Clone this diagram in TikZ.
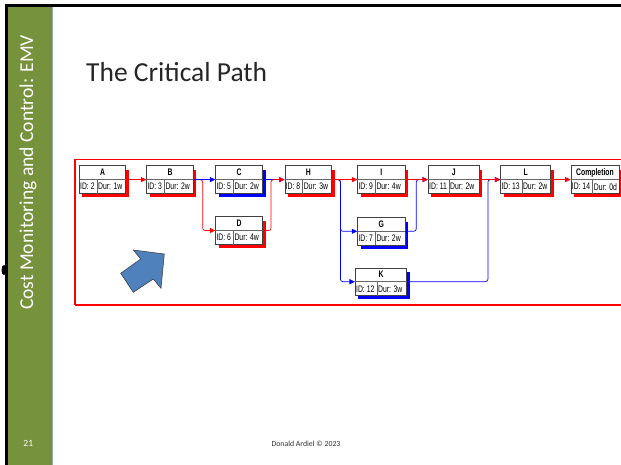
\documentclass[tikz,border=0pt]{standalone}
\usepackage{fontspec}
\setmainfont{Carlito}
\newfontfamily\boxfont[FakeStretch=0.72]{Liberation Sans}
\usetikzlibrary{calc,shadows,arrows.meta}
\definecolor{sidegreen}{HTML}{76923C}
\definecolor{sideline}{HTML}{8DA7C0}
\definecolor{crit}{HTML}{FF0000}
\definecolor{noncrit}{HTML}{0000FF}
\definecolor{callout}{HTML}{4F81BD}

% task box: [ID cell width]{name}{x,y}{width}{title}{ID}{duration}{shadow colour}
\newcommand{\taskbox}[8][18]{%
	\node[task, minimum width=#4pt, drop shadow={shadow xshift=3pt,shadow yshift=-4pt,fill=#8,opacity=1}] (#2) at (#3) {};
	\draw[cell] (#2.west) -- (#2.east) ([xshift=#1pt]#2.west) -- ([xshift=#1pt]#2.south west);
	\node[head] at ($(#2.north)!.5!(#2.center)$) {#5};
	\node[body] at ($(#2.west)!.5!(#2.south west)$) {ID: #6};
	\node[body] at ($([xshift=#1pt]#2.west)!.5!([xshift=#1pt]#2.south west)$) {Dur: #7};
}

\begin{document}
\begin{tikzpicture}[x=1pt, y=-1pt]
	\tikzstyle{task} = [rectangle,draw=black!75,fill=white,line width=0.7pt,minimum height=27.5pt,inner sep=0pt]
	\tikzstyle{cell} = [draw=black!60,line width=0.6pt]
	\tikzstyle{head} = [font=\boxfont\bfseries\fontsize{9.5}{10}\selectfont,inner sep=0pt]
	\tikzstyle{body} = [font=\boxfont\fontsize{9.5}{10}\selectfont,anchor=west,inner sep=1pt]
	\tikzstyle{link} = [line width=0.7pt,rounded corners=2.5pt,-{Triangle[length=5.5pt,width=5pt]}]
	\tikzstyle{frame} = [draw=crit,line width=1.1pt]
	\useasboundingbox (0,0) rectangle (621,465);
	\clip (0,0) rectangle (621,465);
	\fill[white] (0,0) rectangle (621,465);
	
	% slide frame and side bar
	\fill[black] (5,4) rectangle (621,7.3);
	\fill[black] (5,4) rectangle (8,465);
	\fill[black] (4,270) ellipse (2.5 and 5);
	\fill[sidegreen] (8,7.3) rectangle (52,465);
	\draw[sideline,line width=1pt] (52.5,7.3) -- (52.5,465);
	\node[white,rotate=90,anchor=base,font=\fontsize{19.6}{22}\selectfont] (side) at (33,172.5) {Cost Monitoring and Control: EMV};
	\node[white,font=\fontsize{9.5}{11}\selectfont] (page) at (28.3,443.7) {21};
	\node[black!85,anchor=base west,inner sep=0pt,font=\fontsize{27.5}{30}\selectfont] (title) at (86,81.5) {The Critical Path};
	\node[black!80,font=\fontsize{7.8}{9}\selectfont] (foot) at (306,444) {Donald Ardiel \textcopyright{} 2023};
	
	\taskbox{t-A}{102.5,179.6}{46.4}{A}{2}{1w}{crit}
	\taskbox{t-B}{170,179.6}{46.6}{B}{3}{2w}{crit}
	\taskbox{t-C}{239.2,179.6}{47}{C}{5}{2w}{noncrit}
	\taskbox{t-D}{239.2,230.5}{47}{D}{6}{4w}{crit}
	\taskbox{t-H}{308.3,179.6}{46.7}{H}{8}{3w}{crit}
	\taskbox{t-I}{381.3,179.6}{47.3}{I}{9}{4w}{crit}
	\taskbox{t-G}{381.3,231.3}{47.3}{G}{7}{2w}{noncrit}
	\taskbox[22]{t-K}{381,281.7}{51.4}{K}{12}{3w}{noncrit}
	\taskbox[21]{t-J}{453.7,179.6}{50.7}{J}{11}{2w}{crit}
	\taskbox[21.5]{t-L}{525.7,179.6}{50}{L}{13}{2w}{crit}
	\taskbox[22]{t-end}{595,179.6}{48}{Completion}{14}{0d}{crit}
	
	% network frame
	\draw[frame] (75,159.5) -- (621,159.5);
	\draw[frame] (75,305) -- (621,305);
	\draw[frame] (75,159.5) -- (75,305);
	
	\draw[link,crit] (t-A) -- (t-B);
	\draw[link,crit] (t-B.east) -- ++(9,0) |- (t-D.west);
	\draw[link,noncrit] (t-B) -- (t-C);
	\draw[link,noncrit] (t-C) -- (t-H);
	\draw[link,crit] (t-D.east) -- ++(8,0) |- (t-H.west);
	\draw[link,noncrit] (t-H.east) -- ++(8.5,0) |- (t-G.west);
	\draw[link,noncrit] (t-H.east) -- ++(8.5,0) |- (t-K.west);
	\draw[link,crit] (t-H) -- (t-I);
	\draw[link,noncrit] (t-G.east) -- ++(11,0) |- (t-J.west);
	\draw[link,crit] (t-I) -- (t-J);
	\draw[link,noncrit] (t-K.east) -| ([xshift=8.5pt]t-J.east) -- (t-L.west);
	\draw[link,crit] (t-J) -- (t-L);
	\draw[link,crit] (t-L) -- (t-end);
	
	% block arrow
	\filldraw[fill=callout,draw=black!80,line width=0.5pt] (133.3,250) -- (164.3,254) -- (161,288.3) -- (153.3,279) -- (133.3,292.3) -- (120.7,273.3) -- (140.7,259) -- cycle;
\end{tikzpicture}
\end{document}
